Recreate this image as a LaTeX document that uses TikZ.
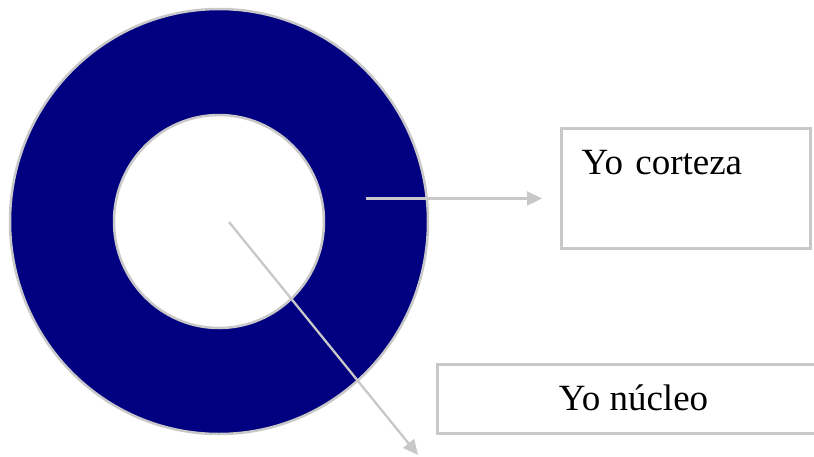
\documentclass[tikz,border=0pt]{standalone}
\usepackage{fontspec}
\setmainfont{Liberation Serif}
\usetikzlibrary{shapes.geometric,arrows.meta}
\definecolor{ringblue}{RGB}{0,0,128}
\definecolor{linegray}{RGB}{200,200,200}
\tikzset{
  ring/.style={draw=linegray,line width=2.5pt,shape=ellipse,inner sep=0pt},
  labelbox/.style={draw=linegray,line width=3pt,inner sep=0pt,text height=46pt,font=\fontsize{37}{44}\selectfont},
  pointer/.style={draw=linegray,line width=2.3pt,-{Triangle[length=15pt,width=14pt]}}
}
\begin{document}
\begin{tikzpicture}[x=1pt,y=-1pt]
\useasboundingbox (0,0) rectangle (814,456);
\node[ring,fill=ringblue,minimum width=418pt,minimum height=425pt,name=outer] at (219,221.5){};
\node[ring,fill=white,minimum width=210pt,minimum height=213pt,name=inner] at (219,221.5){};
\node[labelbox,anchor=north west,text width=249pt,text depth=74pt,align=left,name=corteza] at (560,127){\hspace*{20pt}Yo corteza};
\node[labelbox,anchor=north west,minimum width=392pt,text depth=23pt,name=nucleo] at (436,363){Yo núcleo};
\coordinate (ringpt) at (366,198.5);
\coordinate (cortezatip) at (542,198.5);
\coordinate (centerpt) at (229,222);
\coordinate (nucleotip) at (418,455);
\draw[pointer] (ringpt)--(cortezatip);
\draw[pointer] (centerpt)--(nucleotip);
\end{tikzpicture}
\end{document}
